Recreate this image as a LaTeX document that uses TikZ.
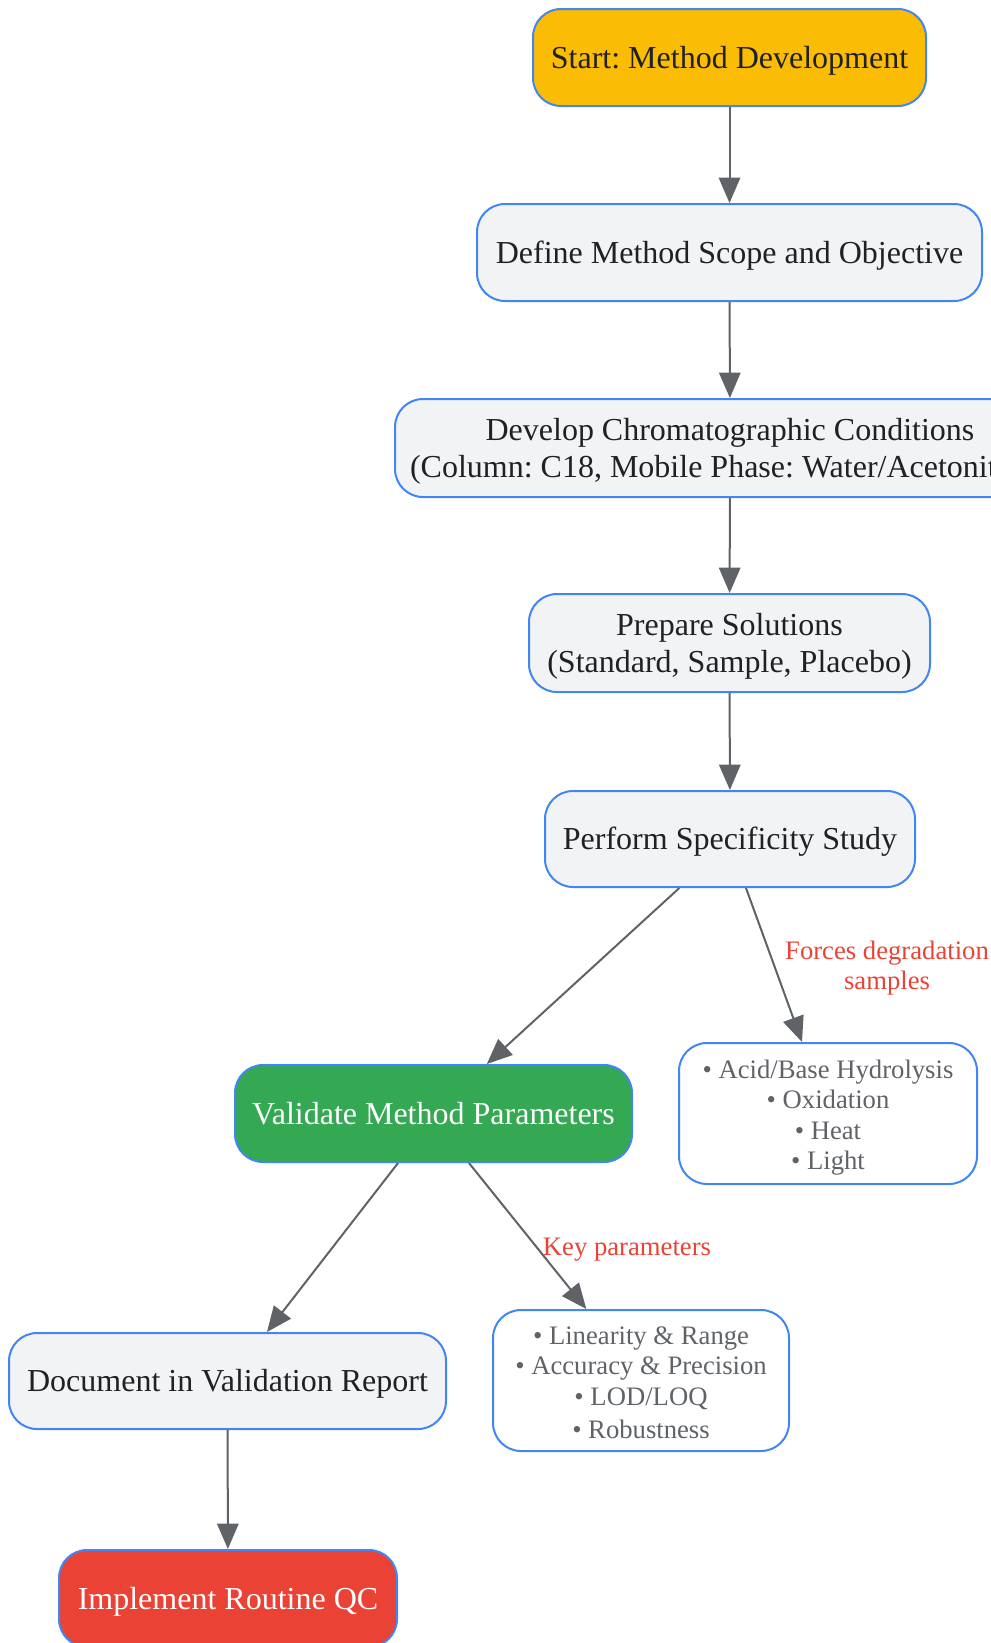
\documentclass[tikz,border=0pt]{standalone}
\usepackage{fontspec}
\setmainfont{Liberation Serif}
\usepackage{tikz}
\usetikzlibrary{arrows.meta}
\usetikzlibrary{positioning}
\frenchspacing
\definecolor{gborder}{HTML}{4285F4}
\definecolor{gyellow}{HTML}{FBBC05}
\definecolor{ggreen}{HTML}{34A853}
\definecolor{gred}{HTML}{EA4335}
\definecolor{ggray}{HTML}{F1F3F4}
\definecolor{gline}{HTML}{5F6368}
\definecolor{gtext}{HTML}{202124}
% fixed line boxes, so every text sits the same way in its box
\newcommand{\bst}{\rule[-5.7pt]{0pt}{27.7pt}}
\newcommand{\sst}{\rule[-4.5pt]{0pt}{25pt}}
\tikzset{
  box/.style={draw=gborder, line width=1.5pt, rounded corners=21pt, fill=ggray,
    text=gtext, align=center, inner sep=0pt,
    font=\fontsize{24}{28.3}\selectfont},
  listbox/.style={box, fill=white, text=gline,
    font=\fontsize{20}{22.8}\selectfont},
  lbl/.style={text=gred, align=center, font=\fontsize{20}{22.8}\selectfont},
  flow/.style={draw=gline, line width=1.5pt, -{Triangle[length=19pt,width=16pt]}}
}

\begin{document}
\begin{tikzpicture}[x=0.75pt, y=-0.75pt]
      \useasboundingbox (0,0) rectangle (990,1643);
      % main column
      \node[box, fill=gyellow, minimum width=294.75pt, minimum height=72.75pt] (start) at (729.5,57.5) {\bst Start: Method Development\bst};
      \node[box, minimum width=378.75pt, minimum height=72.75pt] (scope) at (729.5,252.5) {\bst Define Method Scope and Objective\bst};
      \node[box, minimum width=502.5pt, minimum height=73.5pt] (cond) at (730,448) {\bst Develop Chromatographic Conditions\\(Column: C18, Mobile Phase: Water/Acetonitrile)\bst};
      \node[box, minimum width=300.75pt, minimum height=73.5pt] (prep) at (729.5,643) {\bst Prepare Solutions\\(Standard, Sample, Placebo)\bst};
      \node[box, minimum width=277.5pt, minimum height=72pt] (spec) at (730,839) {\bst Perform Specificity Study\bst};
      % branches
      \node[box, fill=ggreen, text=white, minimum width=297.75pt, minimum height=72.75pt] (valid) at (433.5,1113.5) {\bst Validate Method Parameters\bst};
      \node[listbox, minimum width=223.5pt, minimum height=105.75pt] (stress) at (828,1113.5) {\sst • Acid/Base Hydrolysis\\• Oxidation\\• Heat\\• Light\sst};
      \node[box, minimum width=327.75pt, minimum height=72pt] (report) at (227.5,1381) {\bst Document in Validation Report\bst};
      \node[listbox, minimum width=222pt, minimum height=105.75pt] (params) at (641,1380.5) {\sst • Linearity \& Range\\• Accuracy \& Precision\\• LOD/LOQ\\• Robustness\sst};
      \node[box, fill=gred, text=white, minimum width=253.5pt, minimum height=72.75pt] (qc) at (228,1598.5) {\bst Implement Routine QC\bst};
      % connectors
      \draw[flow] (start) -- (scope);
      \draw[flow] (scope) -- (cond);
      \draw[flow] (cond) -- (prep);
      \draw[flow] (prep) -- (spec);
      \draw[flow] ([xshift=-38pt]spec.south) -- ([xshift=40pt]valid.north);
      \draw[flow] ([xshift=12pt]spec.south) -- ([xshift=-19.5pt]stress.north);
      \draw[flow] ([xshift=-26.6pt]valid.south) -- ([xshift=29.6pt]report.north);
      \draw[flow] ([xshift=26.6pt]valid.south) -- ([xshift=-41pt]params.north);
      \draw[flow] (report) -- (qc);
      \node[lbl] (forced) at (887,968) {Forces degradation\\samples};
      \node[lbl] (keyp) at (627,1250) {Key parameters};
\end{tikzpicture}
\end{document}
